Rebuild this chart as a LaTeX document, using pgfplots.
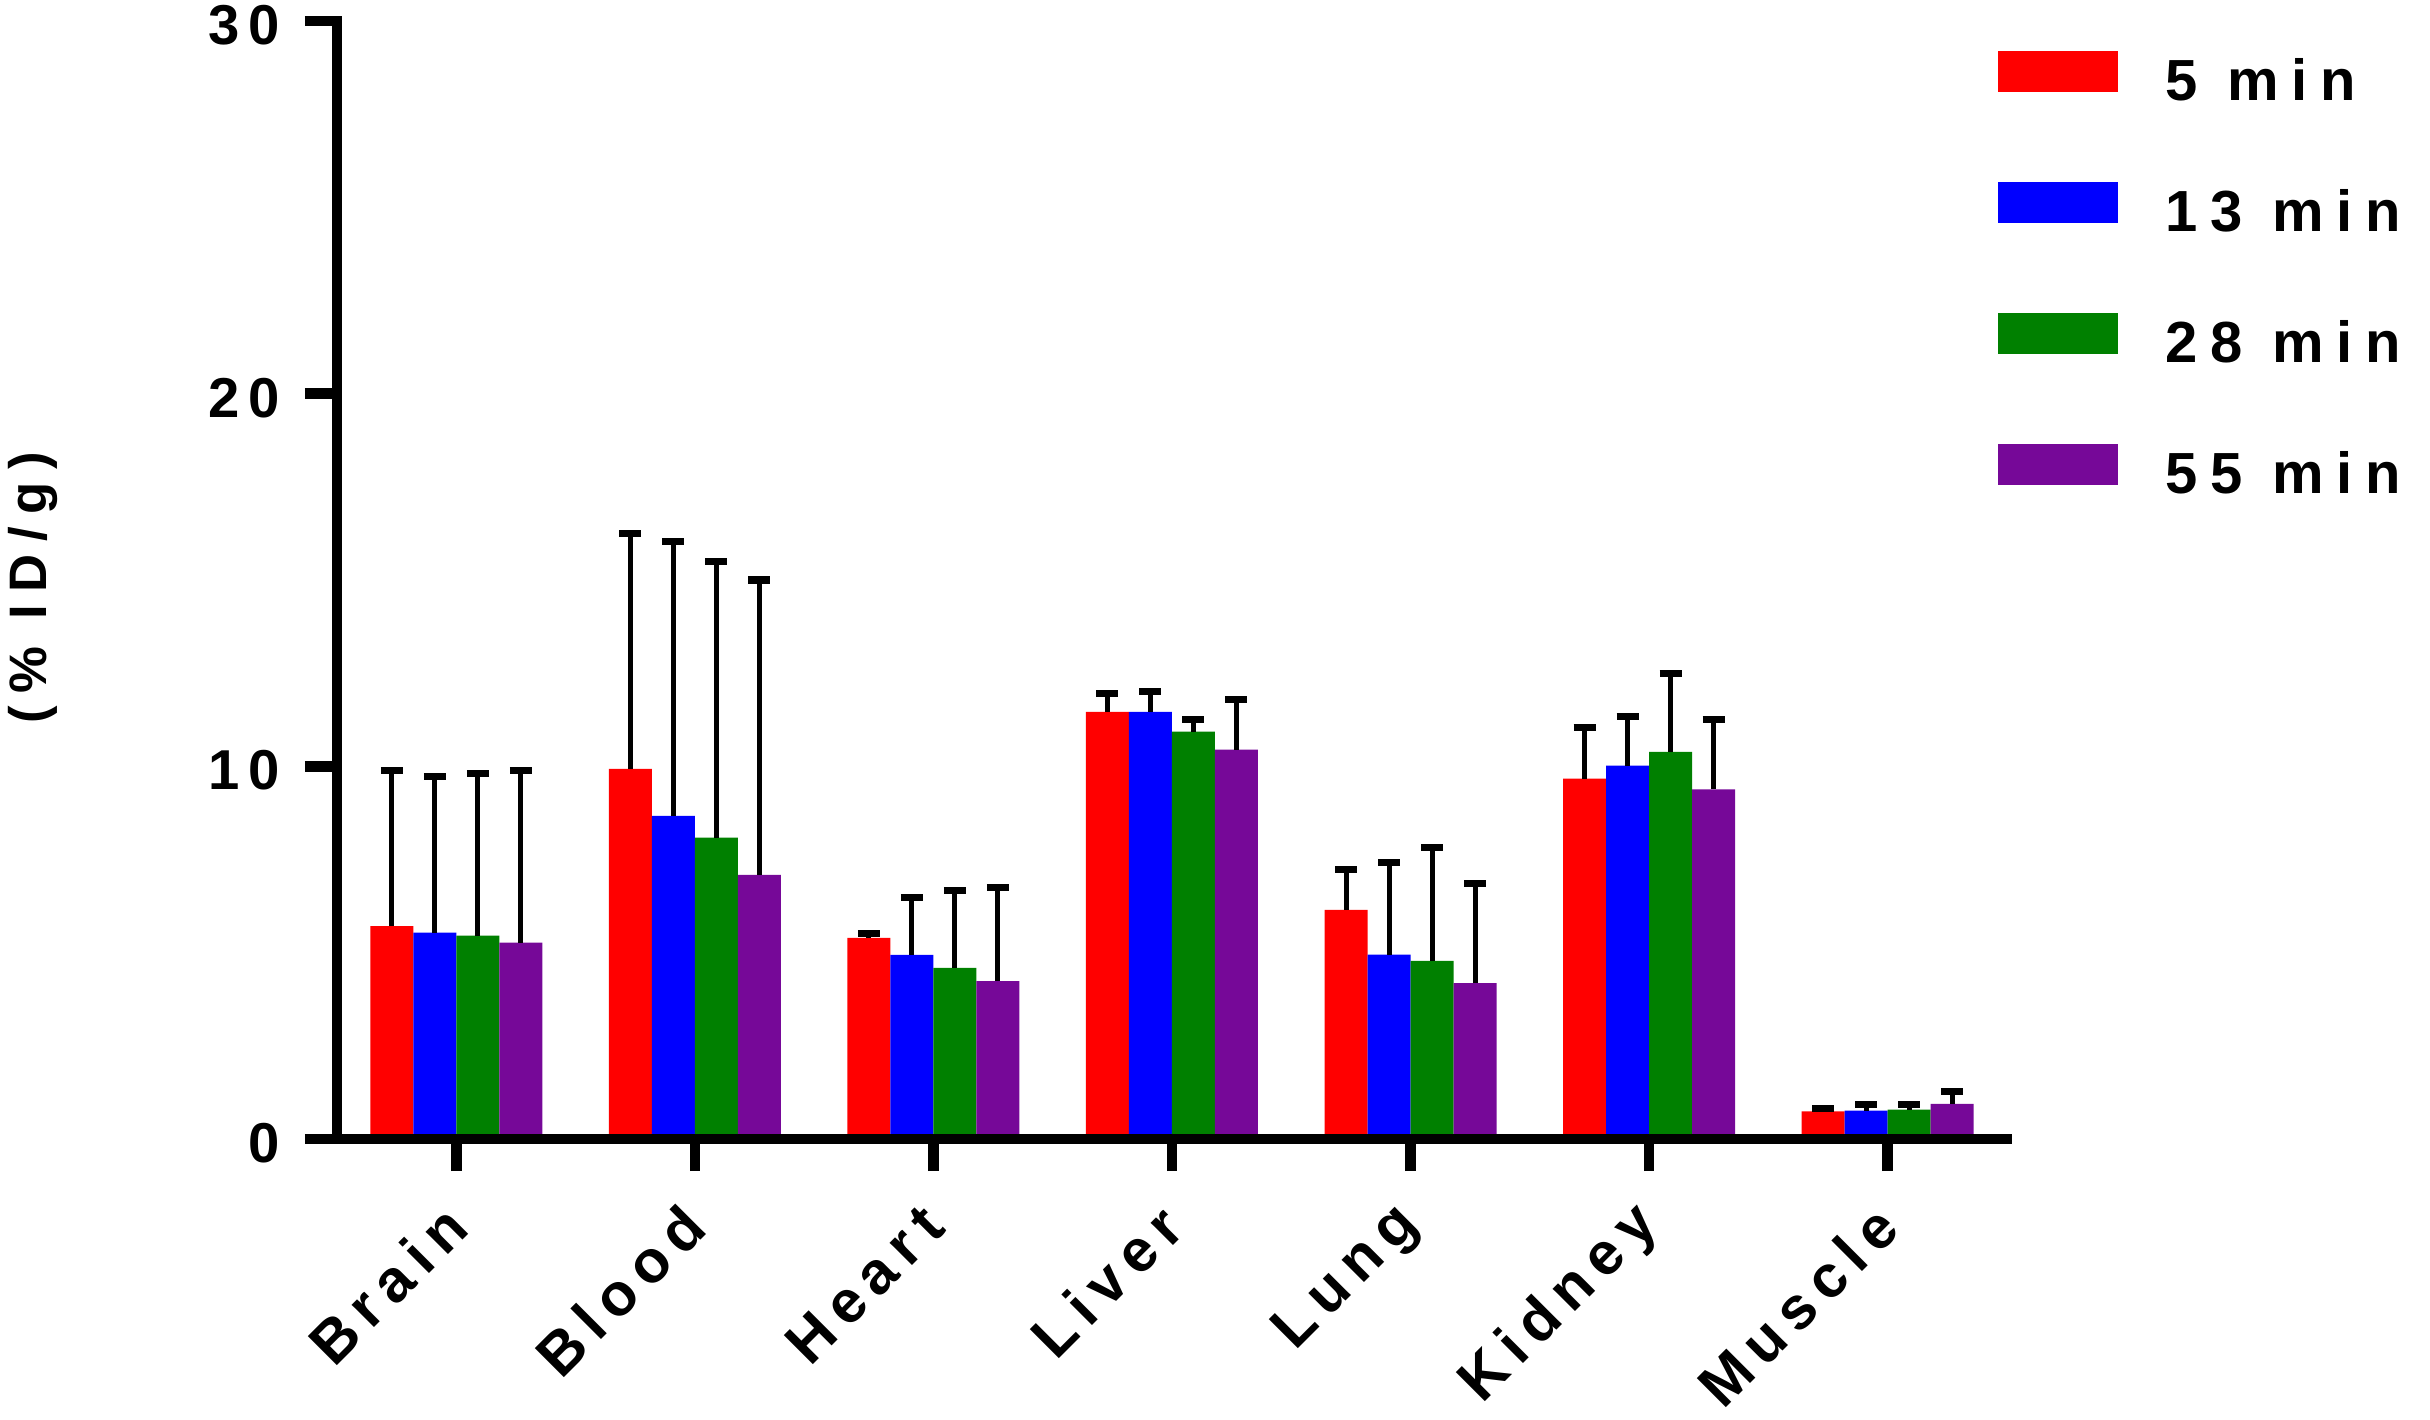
\documentclass[border=0pt]{standalone}
\usepackage{pgfplots}
\pgfplotsset{compat=1.18}
\usepackage{pgfplotstable}
\usepackage{fontspec}
\setmainfont{Liberation Sans}
\newfontfamily\tickf{Liberation Sans}[LetterSpace=15]
\newfontfamily\legf{Liberation Sans}[LetterSpace=22]
\newfontfamily\xlabf{Liberation Sans}[LetterSpace=17]
\newfontfamily\ylabf{Liberation Sans}[LetterSpace=24]
\definecolor{cR}{RGB}{255,0,0}
\definecolor{cB}{RGB}{0,0,255}
\definecolor{cG}{RGB}{0,128,0}
\definecolor{cP}{RGB}{118,8,152}

\pgfplotstableread{
x y e
0 5.71 4.18
1 9.93 6.33
2 5.40 0.12
3 11.46 0.49
4 6.15 1.07
5 9.67 1.36
6 0.74 0.09
}\tR
\pgfplotstableread{
x y e
0 5.54 4.20
1 8.67 7.36
2 4.94 1.55
3 11.46 0.54
4 4.95 2.48
5 10.02 1.31
6 0.76 0.17
}\tB
\pgfplotstableread{
x y e
0 5.46 4.34
1 8.09 7.40
2 4.59 2.07
3 10.93 0.33
4 4.78 3.03
5 10.39 2.10
6 0.79 0.14
}\tG
\pgfplotstableread{
x y e
0 5.27 4.62
1 7.09 7.91
2 4.24 2.50
3 10.45 1.34
4 4.18 2.68
5 9.38 1.87
6 0.94 0.33
}\tP

\begin{document}
\begin{tikzpicture}
\begin{axis}[
  at={(3.37cm,2.80cm)}, anchor=south west,
  scale only axis, width=16.70cm, height=11.18cm,
  xmin=-0.5, xmax=6.5, ymin=0, ymax=30,
  axis x line*=bottom, axis y line*=left,
  axis line style={line width=3pt, line cap=rect, black},
  tick style={line width=3pt, black},
  major tick length=0.32cm, tick align=outside,
  xtick={0,...,6},
  xticklabels={Brain,Blood,Heart,Liver,Lung,Kidney,Muscle},
  ytick={0,10,20,30}, yticklabels={0,10,20,30},
  xticklabel shift=0.45cm,
  yticklabel shift=0.25cm,
  xticklabel style={rotate=45, anchor=east, inner sep=0pt,
    font={\fontsize{17pt}{20pt}\xlabf\bfseries}},
  yticklabel style={anchor=east, inner sep=0pt, yshift=-0.04cm,
    font={\fontsize{16pt}{19pt}\tickf\bfseries}},
  ylabel={(\% ID/g)},
  ylabel style={at={(axis description cs:-0.182,0.493)}, anchor=center, inner sep=0pt,
    font={\fontsize{15pt}{18pt}\ylabf\bfseries}},
  ybar=0pt, bar width=0.43cm,
  axis on top,
  error bars/y dir=plus, error bars/y explicit,
  error bars/error bar style={draw=black, line width=1.4pt},
  error bars/error mark=-,
  error bars/error mark options={draw=black, line width=2pt, mark size=0.11cm, rotate=90},
  legend image code/.code={\fill[#1] (0cm,-0.17cm) rectangle (1.2cm,0.24cm);},
  legend style={at={(axis description cs:0.9946,0.974)}, anchor=north west,
    draw=none, fill=none, inner sep=0pt, outer sep=0pt,
    row sep=0.81cm, column sep=0.48cm,
    nodes={inner sep=0pt, text height=0.5cm, text depth=0cm},
    font={\fontsize{16.5pt}{19pt}\legf\bfseries}},
  legend cell align=left,
]
\addplot[fill=cR, draw=none] table[x=x, y=y, y error=e]{\tR};
\addplot[fill=cB, draw=none] table[x=x, y=y, y error=e]{\tB};
\addplot[fill=cG, draw=none] table[x=x, y=y, y error=e]{\tG};
\addplot[fill=cP, draw=none] table[x=x, y=y, y error=e]{\tP};
\legend{5 min, 13 min, 28 min, 55 min}
\end{axis}
\pgfresetboundingbox
\path[use as bounding box] (0,0) rectangle (24.30,14.19);
\end{tikzpicture}
\end{document}
